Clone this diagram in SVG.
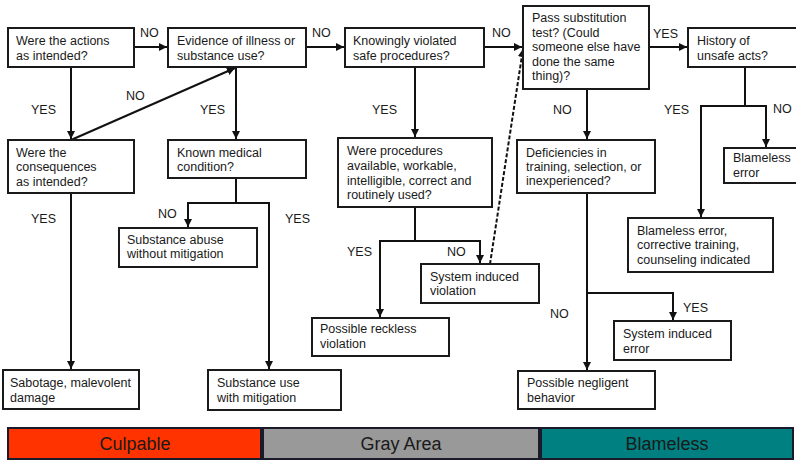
<svg xmlns="http://www.w3.org/2000/svg" width="796" height="465" viewBox="0 0 796 465">
<style>
.box{fill:#fff;stroke:#1a1a1a;stroke-width:2}
.t{font-family:"Liberation Sans",Arial,sans-serif;font-size:12.5px;fill:#1a1a1a}
.c{fill:none;stroke:#111;stroke-width:2}
.d{fill:none;stroke:#111;stroke-width:2;stroke-dasharray:4 2}
.bar{stroke:#1a1a2a;stroke-width:2}
.bt{font-family:"Liberation Sans",Arial,sans-serif;font-size:18px;fill:#1a1a1a;text-anchor:middle}
</style>
<defs>
<marker id="ah" markerUnits="userSpaceOnUse" markerWidth="9" markerHeight="8" refX="8" refY="4" orient="auto">
<path d="M0,0 L8,4 L0,8 Z" fill="#111"/>
</marker>
</defs>
<rect width="796" height="465" fill="#fff"/>
<g id="connectors">
<line class="c" x1="134" y1="47" x2="167" y2="47" marker-end="url(#ah)"/>
<line class="c" x1="306" y1="47" x2="344" y2="47" marker-end="url(#ah)"/>
<line class="c" x1="484" y1="47" x2="522" y2="47" marker-end="url(#ah)"/>
<line class="c" x1="649" y1="47" x2="687" y2="47" marker-end="url(#ah)"/>
<line class="c" x1="71" y1="67" x2="71" y2="139" marker-end="url(#ah)"/>
<line class="c" x1="71" y1="140" x2="235" y2="68" marker-end="url(#ah)"/>
<line class="c" x1="236" y1="67" x2="236" y2="139" marker-end="url(#ah)"/>
<line class="c" x1="415" y1="67" x2="415" y2="137" marker-end="url(#ah)"/>
<line class="c" x1="587" y1="89" x2="587" y2="139" marker-end="url(#ah)"/>
<polyline class="c" points="745,67 745,106"/>
<polyline class="c" points="745,106 766,106 766,147" marker-end="url(#ah)"/>
<polyline class="c" points="745,106 701,106 701,217" marker-end="url(#ah)"/>
<line class="c" x1="71" y1="193" x2="71" y2="369" marker-end="url(#ah)"/>
<polyline class="c" points="236,178 236,203"/>
<polyline class="c" points="236,203 188,203 188,227" marker-end="url(#ah)"/>
<polyline class="c" points="236,203 269,203 269,369" marker-end="url(#ah)"/>
<polyline class="c" points="415,207 415,241"/>
<polyline class="c" points="415,241 380,241 380,317" marker-end="url(#ah)"/>
<polyline class="c" points="415,241 480,241 480,263" marker-end="url(#ah)"/>
<line class="d" x1="490" y1="264" x2="523" y2="49" marker-end="url(#ah)"/>
<line class="c" x1="587" y1="193" x2="587" y2="370" marker-end="url(#ah)"/>
<polyline class="c" points="587,293 673,293 673,320" marker-end="url(#ah)"/>
</g>
<g id="labels">
<text class="t" x="140" y="37">NO</text>
<text class="t" x="312" y="37">NO</text>
<text class="t" x="492" y="37">NO</text>
<text class="t" x="653" y="38">YES</text>
<text class="t" x="31" y="114">YES</text>
<text class="t" x="126" y="100">NO</text>
<text class="t" x="200" y="114">YES</text>
<text class="t" x="372" y="114">YES</text>
<text class="t" x="553" y="114">NO</text>
<text class="t" x="664" y="114">YES</text>
<text class="t" x="773" y="113">NO</text>
<text class="t" x="31" y="223">YES</text>
<text class="t" x="158" y="218">NO</text>
<text class="t" x="285" y="223">YES</text>
<text class="t" x="347" y="256">YES</text>
<text class="t" x="447" y="256">NO</text>
<text class="t" x="683" y="312">YES</text>
<text class="t" x="550" y="318">NO</text>
</g>
<g id="n1"><rect class="box" x="8" y="28" width="126" height="39"/><text class="t" x="16" y="45">Were the actions</text><text class="t" x="16" y="60">as intended?</text></g>
<g id="n2"><rect class="box" x="168" y="28" width="138" height="39"/><text class="t" x="177" y="45">Evidence of illness or</text><text class="t" x="177" y="60">substance use?</text></g>
<g id="n3"><rect class="box" x="345" y="28" width="139" height="39"/><text class="t" x="353" y="45">Knowingly violated</text><text class="t" x="353" y="60">safe procedures?</text></g>
<g id="n4"><rect class="box" x="523" y="6" width="126" height="83"/><text class="t" x="532" y="22">Pass substitution</text><text class="t" x="532" y="37">test? (Could</text><text class="t" x="532" y="51">someone else have</text><text class="t" x="532" y="66">done the same</text><text class="t" x="532" y="80">thing)?</text></g>
<g id="n5"><rect class="box" x="688" y="28" width="112" height="39"/><text class="t" x="697" y="45">History of</text><text class="t" x="697" y="60">unsafe acts?</text></g>
<g id="n6"><rect class="box" x="8" y="140" width="126" height="53"/><text class="t" x="16" y="157">Were the</text><text class="t" x="16" y="171">consequences</text><text class="t" x="16" y="186">as intended?</text></g>
<g id="n7"><rect class="box" x="168" y="140" width="138" height="38"/><text class="t" x="177" y="157">Known medical</text><text class="t" x="177" y="171">condition?</text></g>
<g id="n8"><rect class="box" x="338" y="138" width="154" height="69"/><text class="t" x="347" y="155">Were procedures</text><text class="t" x="347" y="170">available, workable,</text><text class="t" x="347" y="185">intelligible, correct and</text><text class="t" x="347" y="199">routinely used?</text></g>
<g id="n9"><rect class="box" x="517" y="140" width="138" height="53"/><text class="t" x="526" y="157">Deficiencies in</text><text class="t" x="526" y="171">training, selection, or</text><text class="t" x="526" y="185">inexperienced?</text></g>
<g id="n10"><rect class="box" x="724" y="148" width="76" height="35"/><text class="t" x="733" y="162">Blameless</text><text class="t" x="733" y="177">error</text></g>
<g id="n11"><rect class="box" x="119" y="228" width="138" height="39"/><text class="t" x="127" y="244">Substance abuse</text><text class="t" x="127" y="258">without mitigation</text></g>
<g id="n12"><rect class="box" x="628" y="218" width="145" height="54"/><text class="t" x="637" y="235">Blameless error,</text><text class="t" x="637" y="249">corrective training,</text><text class="t" x="637" y="264">counseling indicated</text></g>
<g id="n13"><rect class="box" x="421" y="264" width="118" height="39"/><text class="t" x="430" y="281">System induced</text><text class="t" x="430" y="295">violation</text></g>
<g id="n14"><rect class="box" x="312" y="318" width="137" height="38"/><text class="t" x="320" y="333">Possible reckless</text><text class="t" x="320" y="348">violation</text></g>
<g id="n15"><rect class="box" x="614" y="321" width="117" height="39"/><text class="t" x="623" y="338">System induced</text><text class="t" x="623" y="353">error</text></g>
<g id="n16"><rect class="box" x="3" y="370" width="136" height="39"/><text class="t" x="10" y="387">Sabotage, malevolent</text><text class="t" x="10" y="402">damage</text></g>
<g id="n17"><rect class="box" x="208" y="370" width="133" height="40"/><text class="t" x="217" y="387">Substance use</text><text class="t" x="217" y="402">with mitigation</text></g>
<g id="n18"><rect class="box" x="518" y="371" width="137" height="38"/><text class="t" x="527" y="387">Possible negligent</text><text class="t" x="527" y="402">behavior</text></g>
<g id="legend">
<rect class="bar" x="8" y="428" width="253" height="31" fill="#ff3300"/>
<rect class="bar" x="263" y="428" width="276" height="31" fill="#999999"/>
<rect class="bar" x="541" y="428" width="252" height="31" fill="#008080"/>
<text class="bt" x="135" y="450">Culpable</text>
<text class="bt" x="401" y="450">Gray Area</text>
<text class="bt" x="667" y="450">Blameless</text>
</g>
</svg>
